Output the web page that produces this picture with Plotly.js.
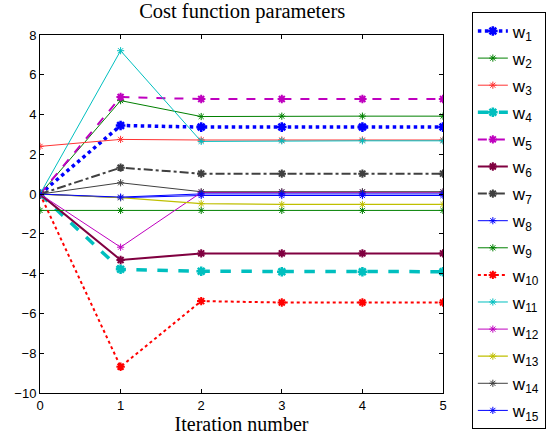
<!DOCTYPE html>
<html>
<head>
<meta charset="utf-8">
<script src="https://cdn.plot.ly/plotly-3.0.1.min.js"></script>
<style>html,body{margin:0;padding:0;background:#fff;}#chart{width:558px;height:440px;}</style>
</head>
<body>
<div id="chart"></div>
<script>
const iterations = [0, 1, 2, 3, 4, 5];
const seriesNames = ['w<sub>1</sub>','w<sub>2</sub>','w<sub>3</sub>','w<sub>4</sub>','w<sub>5</sub>','w<sub>6</sub>','w<sub>7</sub>','w<sub>8</sub>','w<sub>9</sub>','w<sub>10</sub>','w<sub>11</sub>','w<sub>12</sub>','w<sub>13</sub>','w<sub>14</sub>','w<sub>15</sub>'];
const w1  = [0, 3.45, 3.37, 3.37, 3.37, 3.37];
const w2  = [0, 4.70, 3.90, 3.92, 3.92, 3.92];
const w3  = [2.40, 2.75, 2.72, 2.72, 2.72, 2.72];
const w4  = [0, -3.78, -3.88, -3.90, -3.90, -3.90];
const w5  = [0, 4.88, 4.78, 4.78, 4.78, 4.78];
const w6  = [0, -3.31, -2.98, -2.98, -2.98, -2.98];
const w7  = [0, 1.33, 1.03, 1.03, 1.03, 1.03];
const w8  = [0, -0.18, -0.07, -0.07, -0.07, -0.07];
const w9  = [-0.82, -0.82, -0.82, -0.82, -0.82, -0.82];
const w10 = [0, -8.68, -5.38, -5.45, -5.45, -5.45];
const w11 = [0, 7.21, 2.65, 2.68, 2.68, 2.68];
const w12 = [0, -2.67, 0.08, 0.09, 0.09, 0.09];
const w13 = [0, -0.18, -0.48, -0.52, -0.52, -0.52];
const w14 = [0, 0.57, 0.12, 0.12, 0.12, 0.12];
const w15 = [0, -0.15, 0.01, 0.01, 0.01, 0.01];

const values = [w1,w2,w3,w4,w5,w6,w7,w8,w9,w10,w11,w12,w13,w14,w15];
const styles = [
  {c:'#0000ff', w:3.5, d:'dot', ms:8, mw:2.5},
  {c:'#008000', w:1, d:'solid', ms:6, mw:1},
  {c:'#ff3333', w:1, d:'solid', ms:6, mw:1},
  {c:'#00bfbf', w:3.5, d:'dash', ms:8, mw:2.5},
  {c:'#bf00bf', w:2, d:'dash', ms:7, mw:2},
  {c:'#800040', w:2, d:'solid', ms:7, mw:2},
  {c:'#404040', w:2, d:'dashdot', ms:7, mw:2},
  {c:'#0000ff', w:1, d:'solid', ms:6, mw:1},
  {c:'#008000', w:1, d:'solid', ms:6, mw:1},
  {c:'#ff0000', w:2, d:'dot', ms:7, mw:2},
  {c:'#00bfbf', w:1, d:'solid', ms:6, mw:1},
  {c:'#bf00bf', w:1, d:'solid', ms:6, mw:1},
  {c:'#bfbf00', w:1.3, d:'solid', ms:6, mw:1},
  {c:'#404040', w:1, d:'solid', ms:6, mw:1},
  {c:'#0000ff', w:1, d:'solid', ms:6, mw:1}
];

const traces = values.map((v, i) => ({
  x: iterations, y: v, name: seriesNames[i], type: 'scatter', mode: 'lines+markers',
  legendgroup: 'g' + i,
  line: {color: styles[i].c, width: styles[i].w, dash: styles[i].d},
  marker: {symbol: 'asterisk-open', size: styles[i].ms, color: styles[i].c, line: {color: styles[i].c, width: styles[i].mw}}
}));

const axisCommon = {
  showline: true, linecolor: '#000', linewidth: 1, mirror: 'ticks',
  ticks: 'inside', ticklen: 4, tickcolor: '#000', showgrid: false, zeroline: false,
  tickfont: {family: 'Liberation Sans, Arial, sans-serif', size: 13, color: '#000'}
};

const layout = {
  width: 558, height: 440,
  margin: {l: 40, r: 113, t: 28, b: 47},
  paper_bgcolor: '#fff', plot_bgcolor: '#fff',
  title: {text: 'Cost function parameters', font: {family: 'Liberation Serif, Times New Roman, serif', size: 20.5, color: '#000'}, x: 0.434, xanchor: 'center', y: 0.975, yanchor: 'middle'},
  xaxis: Object.assign({}, axisCommon, {range: [0, 5], tickvals: [0,1,2,3,4,5],
    title: {text: 'Iteration number', font: {family: 'Liberation Serif, Times New Roman, serif', size: 20, color: '#000'}, standoff: 0}}),
  yaxis: Object.assign({}, axisCommon, {range: [-10, 8], tickvals: [-10,-8,-6,-4,-2,0,2,4,6,8]}),
  showlegend: true,
  legend: {x: 1.0716, xanchor: 'left', y: 1.063, yanchor: 'top', bgcolor: '#fff', bordercolor: '#000', borderwidth: 1,
    maxheight: 440, traceorder: 'grouped', entrywidth: 34, entrywidthmode: 'pixels',
    font: {family: 'Liberation Sans, Arial, sans-serif', size: 17, color: '#000'}, tracegroupgap: 2}
};

Plotly.newPlot('chart', traces, layout, {staticPlot: true, displayModeBar: false});
</script>
</body>
</html>
